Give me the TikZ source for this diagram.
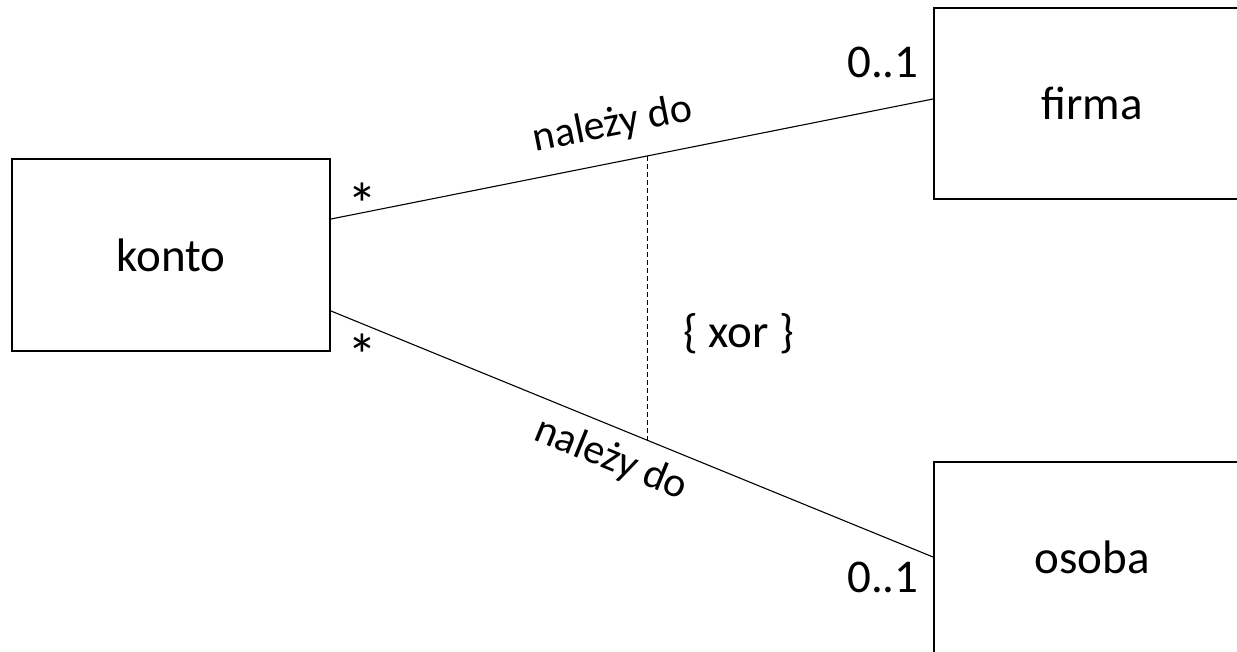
\documentclass[tikz,border=0pt]{standalone}
\usepackage{fontspec}
\setmainfont{Carlito}
\usetikzlibrary{calc}
\begin{document}
\begin{tikzpicture}[x=1pt,y=-1pt,
  classbox/.style={draw,line width=2pt,rectangle,inner sep=0pt,font=\fontsize{47}{50}\selectfont},
  assoc/.style={line width=1.1pt},
  lbl/.style={inner sep=0pt,font=\fontsize{47}{50}\selectfont},
  starlbl/.style={inner sep=0pt,font=\fontsize{60}{64}\selectfont},
  rolelbl/.style={inner sep=0pt,font=\fontsize{42}{46}\selectfont},
  xorline/.style={line width=1pt,dash pattern=on 5pt off 3pt}]
\useasboundingbox (0,0) rectangle (1237,652);
\clip (0,0) rectangle (1237,652);
\node[classbox,minimum width=318pt,minimum height=192pt] (konto) at (171,255) {konto};
\node[classbox,minimum width=316pt,minimum height=191pt] (firma) at (1092,103.5) {firma};
\node[classbox,minimum width=316pt,minimum height=191pt] (osoba) at (1092,557.5) {osoba};
\draw[assoc] ([yshift=36pt]konto.east) -- ([yshift=4.5pt]firma.west)
  node[rolelbl,pos=0.48,sloped,above=19pt] (l1) {należy do}
  coordinate[pos=0.525] (u);
\draw[assoc] ([yshift=-56pt]konto.east) -- ([yshift=0.5pt]osoba.west)
  node[rolelbl,pos=0.485,sloped,below=13pt] (l2) {należy do}
  coordinate[pos=0.525] (l);
\draw[xorline] (u) -- (l);
\node[starlbl,anchor=base] (s1) at (362,226) {*};
\node[starlbl,anchor=base] (s2) at (362,376) {*};
\node[lbl,anchor=base] (m1) at (883,78) {0..1};
\node[lbl,anchor=base] (m2) at (883,592) {0..1};
\node[lbl,anchor=base] (xor) at (739,348) {\{ xor \}};
\end{tikzpicture}
\end{document}
